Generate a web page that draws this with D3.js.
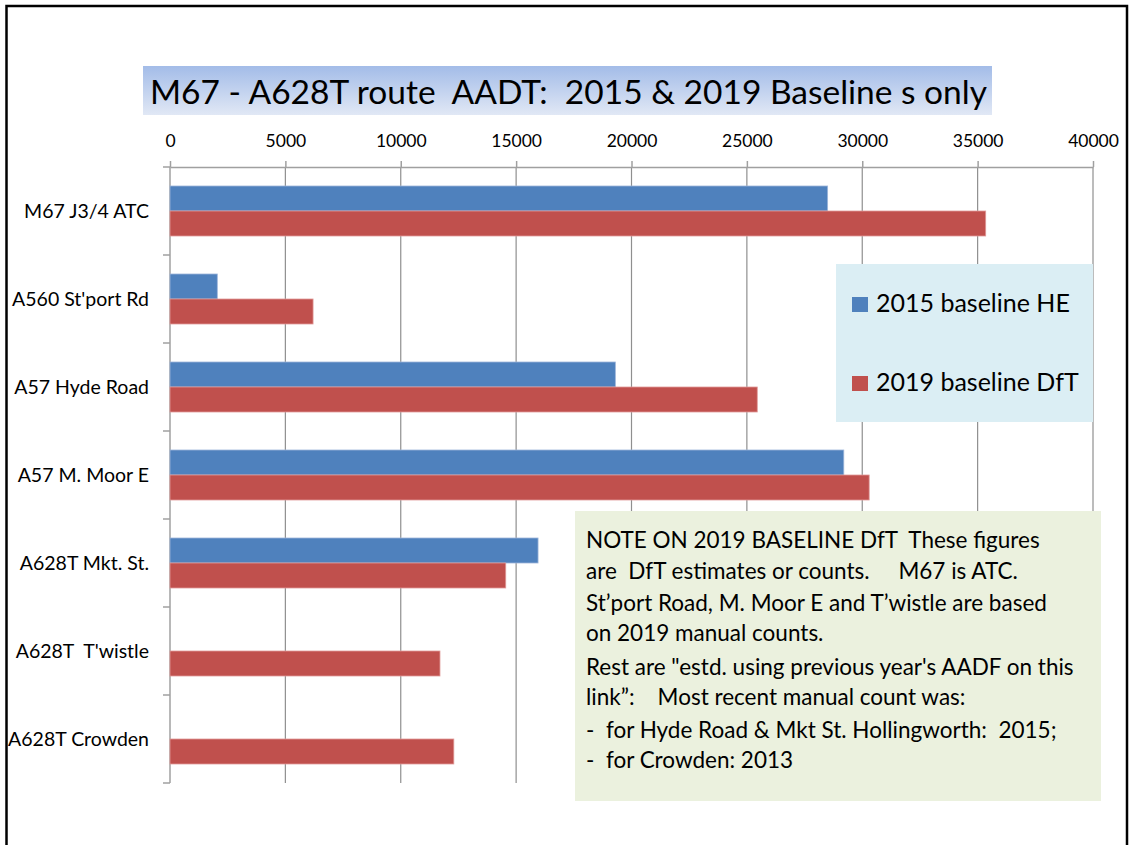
<!DOCTYPE html>
<html>
<head>
<meta charset="utf-8">
<script src="https://cdn.jsdelivr.net/npm/d3@7"></script>
<style>
  body { margin: 0; background: #fff; }
  text { font-family: Lato, "Open Sans", sans-serif; fill: #000; white-space: pre; }
</style>
</head>
<body>
<script>
// chart data
var categories = ["M67 J3/4 ATC", "A560 St'port Rd", "A57 Hyde Road", "A57 M. Moor E",
                  "A628T Mkt. St.", "A628T  T'wistle", "A628T Crowden"];
var seriesNames = ["2015 baseline HE", "2019 baseline DfT"];
var baseline2015 = [28500, 2050, 19300, 29200, 15950, null, null];
var baseline2019 = [35350, 6200, 25450, 30300, 14550, 11700, 12300];
var xTicks = [0, 5000, 10000, 15000, 20000, 25000, 30000, 35000, 40000];
var noteLines = [
  "NOTE ON 2019 BASELINE DfT  These figures",
  "are  DfT estimates or counts.     M67 is ATC.",
  "St\u2019port Road, M. Moor E and T\u2019wistle are based",
  "on 2019 manual counts.",
  "Rest are \"estd. using previous year's AADF on this",
  "link\u201d:    Most recent manual count was:",
  "-  for Hyde Road & Mkt St. Hollingworth:  2015;",
  "-  for Crowden: 2013"
];
var colors = ["#4F81BD", "#C0504D"];
var edge = ["#9db5da", "#e09a98"];

var width = 1129, height = 845;

var svg = d3.select("body").append("svg")
    .attr("width", width)
    .attr("height", height);

// slide frame
svg.append("rect")
    .attr("x", 6.5).attr("y", 6)
    .attr("width", 1120.5).attr("height", 900)
    .attr("fill", "#fff")
    .attr("stroke", "#000")
    .attr("stroke-width", 2.5);

// title with gradient box
var grad = svg.append("defs").append("linearGradient")
    .attr("id", "titleGrad")
    .attr("x1", 0).attr("y1", 0).attr("x2", 0).attr("y2", 1);
grad.append("stop").attr("offset", "0%").attr("stop-color", "#a3bce8");
grad.append("stop").attr("offset", "100%").attr("stop-color", "#e1e8f5");

svg.append("rect")
    .attr("x", 143).attr("y", 66)
    .attr("width", 849).attr("height", 49)
    .attr("fill", "url(#titleGrad)");

svg.append("text")
    .attr("x", 150).attr("y", 104)
    .attr("font-size", 32)
    .attr("textLength", 837)
    .attr("lengthAdjust", "spacingAndGlyphs")
    .text("M67 - A628T route  AADT:  2015 & 2019 Baseline s only");

// scales
var x = d3.scaleLinear().domain([0, 40000]).range([170, 1093]);
var y = d3.scaleBand().domain(categories).range([167, 783]).padding(0);
var ySub = d3.scaleBand().domain([0, 1]).range([0, y.bandwidth()])
    .paddingInner(0).paddingOuter(0.76);

// gridlines
svg.append("g").selectAll("line")
    .data(xTicks.slice(1))
    .enter().append("line")
    .attr("x1", function(d){ return x(d); })
    .attr("x2", function(d){ return x(d); })
    .attr("y1", 167).attr("y2", 783)
    .attr("stroke", "#8f8f8f")
    .attr("stroke-width", 1.2);

// top axis
var xAxis = svg.append("g")
    .attr("transform", "translate(0,167)")
    .call(d3.axisTop(x).tickValues(xTicks).tickFormat(d3.format("d"))
        .tickSize(6).tickSizeOuter(0).tickPadding(14));
xAxis.selectAll("path, line").attr("stroke", "#a0a0a0").attr("stroke-width", 1.5);
xAxis.selectAll("text").attr("font-size", 17.5).attr("font-family", "Lato").attr("fill", "#000");

// left axis line + ticks at band edges
var edges = categories.map(function(c){ return y(c); }).concat([783]);
svg.append("line")
    .attr("x1", 170).attr("x2", 170)
    .attr("y1", 167).attr("y2", 783)
    .attr("stroke", "#a0a0a0").attr("stroke-width", 1.5);
svg.append("g").selectAll("line")
    .data(edges)
    .enter().append("line")
    .attr("x1", 163).attr("x2", 170)
    .attr("y1", function(d){ return d; })
    .attr("y2", function(d){ return d; })
    .attr("stroke", "#a0a0a0").attr("stroke-width", 1.5);

// category labels
svg.append("g").selectAll("text")
    .data(categories)
    .enter().append("text")
    .attr("x", 149)
    .attr("y", function(d){ return y(d) + y.bandwidth() / 2; })
    .attr("dy", "0.35em")
    .attr("text-anchor", "end")
    .attr("font-size", 19.5)
    .text(function(d){ return d; });

// bars
[baseline2015, baseline2019].forEach(function(vals, s){
    svg.append("g").selectAll("rect")
        .data(categories.map(function(c, i){ return { cat: c, v: vals[i] }; })
            .filter(function(d){ return d.v != null; }))
        .enter().append("rect")
        .attr("x", x(0))
        .attr("y", function(d){ return y(d.cat) + ySub(s); })
        .attr("width", function(d){ return x(d.v) - x(0); })
        .attr("height", ySub.bandwidth())
        .attr("fill", colors[s])
        .attr("stroke", edge[s])
        .attr("stroke-width", 0.8);
});

// legend
svg.append("rect")
    .attr("x", 836).attr("y", 264)
    .attr("width", 257).attr("height", 158)
    .attr("fill", "#DBEEF4");
var leg = svg.append("g").selectAll("g")
    .data(seriesNames)
    .enter().append("g")
    .attr("transform", function(d, i){ return "translate(852," + (297 + i * 79) + ")"; });
leg.append("rect")
    .attr("width", 16).attr("height", 15)
    .attr("fill", function(d, i){ return colors[i]; });
leg.append("text")
    .attr("x", 24).attr("y", 15)
    .attr("font-size", 25)
    .text(function(d){ return d; });

// note box
svg.append("rect")
    .attr("x", 575).attr("y", 511)
    .attr("width", 526).attr("height", 290)
    .attr("fill", "#EBF1DE");
var lineY = [548, 579, 611, 641, 675, 705, 738, 768];
svg.append("g").selectAll("text")
    .data(noteLines)
    .enter().append("text")
    .attr("x", 586)
    .attr("y", function(d, i){ return lineY[i]; })
    .attr("font-size", 22.5)
    .text(function(d){ return d; });
</script>
</body>
</html>
